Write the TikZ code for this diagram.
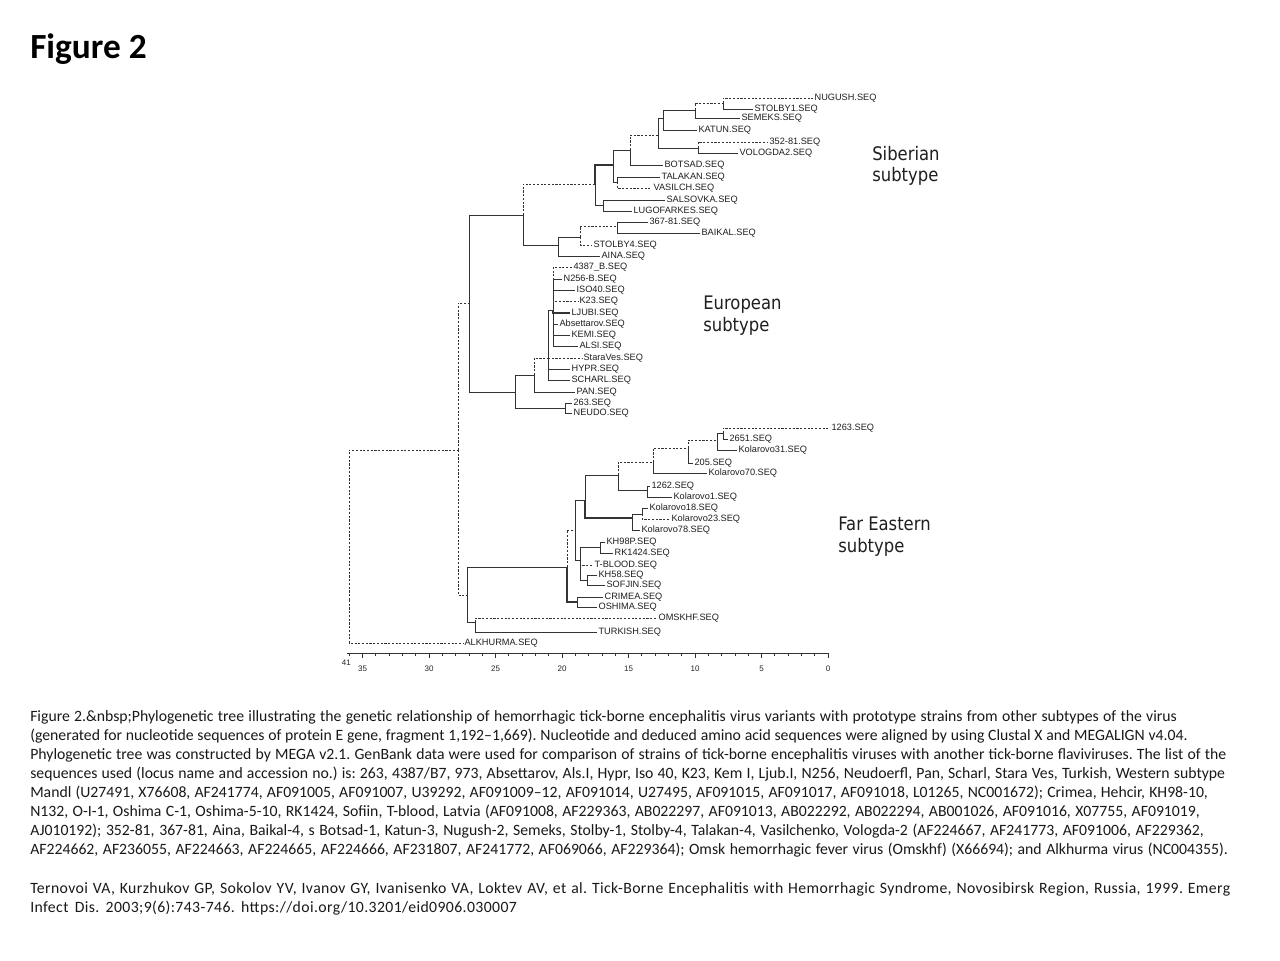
\documentclass[tikz,border=0pt]{standalone}
\usepackage{fontspec}
\setmainfont{Carlito}
\newfontfamily\capwide[LetterSpace=2.5]{Carlito}
\newfontfamily\lblfont{Liberation Sans}
\newfontfamily\subfont[FakeStretch=0.88]{DejaVu Sans}
\newcommand{\capline}[2]{\makebox[#1pt][s]{#2}}
\frenchspacing
\begin{document}
\begin{tikzpicture}[x=0.75pt,y=-0.75pt,
  br/.style={draw=black!80, line width=0.6pt},
  brd/.style={br, dash pattern=on 1.6pt off 1.2pt},
  lbl/.style={anchor=west, inner sep=1pt, font=\lblfont\fontsize{6.9}{7.5}\selectfont, text=black!88},
  sublbl/.style={anchor=north west, inner sep=0pt, align=left, font=\subfont\fontsize{14}{16}\selectfont, text=black!88},
  captxt/.style={anchor=base west, inner sep=0pt, font=\fontsize{11.8}{14}\selectfont\frenchspacing, text=black!90},
  axl/.style={inner sep=0pt, font=\lblfont\fontsize{6}{7}\selectfont, text=black!85}]
\useasboundingbox (0,0) rectangle (1280,960);
\fill[white] (0,0) rectangle (1280,960);

% title
\node[anchor=base west, inner sep=0pt, font=\bfseries\fontsize{26.5}{31}\selectfont] (title) at (30,58) {Figure 2};

% ---------------- Siberian subtype ----------------
\coordinate (nA1) at (723,103);
\coordinate (nA2) at (695,110);
\coordinate (nB) at (663,118);
\coordinate (n352) at (698,148);
\coordinate (nA) at (658,135);
\coordinate (nD) at (630,150);
\coordinate (nF) at (617,182);
\coordinate (nE) at (613,165);
\coordinate (nG) at (603,205);
\coordinate (nH) at (595,184);
\coordinate (n367) at (617,226);
\coordinate (n4) at (580,237);
\coordinate (nI) at (558,245);
\coordinate (nSib) at (523,215);

\node[lbl] (nug) at (813,98) {NUGUSH.SEQ};
\node[lbl] (sto1) at (753,109) {STOLBY1.SEQ};
\node[lbl] (sem) at (740,118) {SEMEKS.SEQ};
\node[lbl] (kat) at (697,130) {KATUN.SEQ};
\node[lbl] (s352) at (768,142) {352-81.SEQ};
\node[lbl] (vol) at (738,153) {VOLOGDA2.SEQ};
\node[lbl] (bot) at (663,165) {BOTSAD.SEQ};
\node[lbl] (tal) at (660,177) {TALAKAN.SEQ};
\node[lbl] (vas) at (652,188) {VASILCH.SEQ};
\node[lbl] (sal) at (665,200) {SALSOVKA.SEQ};
\node[lbl] (ugo) at (632,211) {LUGOFARKES.SEQ};
\node[lbl] (s367) at (648,222) {367-81.SEQ};
\node[lbl] (bai) at (700,233) {BAIKAL.SEQ};
\node[lbl] (sto4) at (592,245) {STOLBY4.SEQ};
\node[lbl] (aina) at (600,256) {AINA.SEQ};

\draw[brd] (nA1) |- (nug.west);
\draw[br] (nA1) |- (sto1.west);
\draw[brd] (nA2) |- (nA1);
\draw[br] (nA2) |- (sem.west);
\draw[br] (nB) |- (nA2);
\draw[br] (nB) |- (kat.west);
\draw[br] (nA) |- (nB);
\draw[br] (nA) |- (n352);
\draw[brd] (n352) |- (s352.west);
\draw[br] (n352) |- (vol.west);
\draw[brd] (nD) |- (nA);
\draw[br] (nD) |- (bot.west);
\draw[br] (nE) |- (nD);
\draw[br] (nE) |- (nF);
\draw[br] (nF) |- (tal.west);
\draw[brd] (nF) |- (vas.west);
\draw[br] (nG) |- (sal.west);
\draw[br] (nG) |- (ugo.west);
\draw[br, line width=1.1pt] (nH) |- (nE);
\draw[br] (nH) |- (nG);
\draw[br] (n367) |- (s367.west);
\draw[br] (n367) |- (bai.west);
\draw[brd] (n4) |- (n367);
\draw[brd] (n4) |- (sto4.west);
\draw[br] (nI) |- (n4);
\draw[br] (nI) |- (aina.west);
\draw[brd] (nSib) |- (nH);
\draw[br] (nSib) |- (nI);

% ---------------- European subtype ----------------
\coordinate (nEu1) at (553,310);
\coordinate (nEu0) at (548,358);
\coordinate (nP) at (534,375);
\coordinate (n263) at (565,408);
\coordinate (nEu) at (515,392);
\coordinate (nSE) at (469,303);

\node[lbl] (e4387) at (572,267) {4387\_B.SEQ};
\node[lbl] (en256) at (562,279) {N256-B.SEQ};
\node[lbl] (eiso) at (575,290) {ISO40.SEQ};
\node[lbl] (ek23) at (578,301) {K23.SEQ};
\node[lbl] (eljub) at (570,313) {LJUBI.SEQ};
\node[lbl] (eabs) at (558,324) {Absettarov.SEQ};
\node[lbl] (ekem) at (570,335) {KEMI.SEQ};
\node[lbl] (eals) at (578,346) {ALSI.SEQ};
\node[lbl] (esta) at (582,358) {StaraVes.SEQ};
\node[lbl] (ehyp) at (570,369) {HYPR.SEQ};
\node[lbl] (esch) at (570,380) {SCHARL.SEQ};
\node[lbl] (epan) at (575,392) {PAN.SEQ};
\node[lbl] (e263) at (572,403) {263.SEQ};
\node[lbl] (eneu) at (572,413) {NEUDO.SEQ};

\draw[brd] (nEu1) |- (e4387.west);
\draw[br] (nEu1) |- (en256.west);
\draw[br] (nEu1) |- (eiso.west);
\draw[brd] (nEu1) |- (ek23.west);
\draw[br, line width=1.1pt] (nEu1) |- (eljub.west);
\draw[br] (nEu1) |- (eabs.west);
\draw[br] (nEu1) |- (ekem.west);
\draw[br] (nEu1) |- (eals.west);
\draw[br] (nEu0) |- (nEu1);
\draw[brd] (nEu0) |- (esta.west);
\draw[br] (nEu0) |- (ehyp.west);
\draw[br] (nEu0) |- (esch.west);
\draw[brd] (nP) |- (nEu0);
\draw[br] (nP) |- (epan.west);
\draw[br] (n263) |- (e263.west);
\draw[br] (n263) |- (eneu.west);
\draw[br] (nEu) |- (nP);
\draw[br] (nEu) |- (n263);
\draw[br] (nSE) |- (nSib);
\draw[br] (nSE) |- (nEu);

% ---------------- Far Eastern subtype ----------------
\coordinate (nK2) at (723,433);
\coordinate (nK) at (717,440);
\coordinate (nL) at (688,448);
\coordinate (nM) at (653,462);
\coordinate (n1262) at (647,490);
\coordinate (nN) at (618,475);
\coordinate (nKol2) at (642,514);
\coordinate (nKol) at (632,518);
\coordinate (nO) at (585,500);
\coordinate (nQ1) at (600,547);
\coordinate (nQ2) at (587,580);
\coordinate (nQ) at (580,560);
\coordinate (nR) at (575,530);
\coordinate (nS) at (577,602);
\coordinate (nFE) at (567,567);
\coordinate (nT) at (475,622);
\coordinate (nU) at (467,595);
\coordinate (nV) at (458,450);
\coordinate (nRoot) at (349,600);

\node[lbl] (f1263) at (830,428) {1263.SEQ};
\node[lbl] (f2651) at (728,439) {2651.SEQ};
\node[lbl] (fk31) at (737,450) {Kolarovo31.SEQ};
\node[lbl] (f205) at (693,463) {205.SEQ};
\node[lbl] (fk70) at (707,473) {Kolarovo70.SEQ};
\node[lbl] (f1262) at (650,486) {1262.SEQ};
\node[lbl] (fk1) at (672,497) {Kolarovo1.SEQ};
\node[lbl] (fk18) at (648,508) {Kolarovo18.SEQ};
\node[lbl] (fk23) at (670,519) {Kolarovo23.SEQ};
\node[lbl] (fk78) at (640,530) {Kolarovo78.SEQ};
\node[lbl] (fkh) at (605,542) {KH98P.SEQ};
\node[lbl] (frk) at (613,553) {RK1424.SEQ};
\node[lbl] (ftb) at (593,565) {T-BLOOD.SEQ};
\node[lbl] (fkh58) at (597,575) {KH58.SEQ};
\node[lbl] (fsof) at (605,585) {SOFJIN.SEQ};
\node[lbl] (fcri) at (603,597) {CRIMEA.SEQ};
\node[lbl] (fosh) at (597,607) {OSHIMA.SEQ};
\node[lbl] (fomsk) at (657,618) {OMSKHF.SEQ};
\node[lbl] (ftur) at (597,632) {TURKISH.SEQ};
\node[lbl] (falk) at (463,643) {ALKHURMA.SEQ};

\draw[brd] (nK2) |- (f1263.west);
\draw[br] (nK2) |- (f2651.west);
\draw[br] (nK) |- (nK2);
\draw[br] (nK) |- (fk31.west);
\draw[brd] (nL) |- (nK);
\draw[br] (nL) |- (f205.west);
\draw[brd] (nM) |- (nL);
\draw[br] (nM) |- (fk70.west);
\draw[br] (n1262) |- (f1262.west);
\draw[br] (n1262) |- (fk1.west);
\draw[brd] (nN) |- (nM);
\draw[br] (nN) |- (n1262);
\draw[br] (nKol2) |- (fk18.west);
\draw[brd] (nKol2) |- (fk23.west);
\draw[br] (nKol) |- (nKol2);
\draw[br] (nKol) |- (fk78.west);
\draw[br] (nO) |- (nN);
\draw[br, line width=1pt] (nO) |- (nKol);
\draw[br] (nQ1) |- (fkh.west);
\draw[br] (nQ1) |- (frk.west);
\draw[br] (nQ2) |- (fkh58.west);
\draw[br] (nQ2) |- (fsof.west);
\draw[br] (nQ) |- (nQ1);
\draw[brd] (nQ) |- (ftb.west);
\draw[br] (nQ) |- (nQ2);
\draw[br] (nR) |- (nO);
\draw[br] (nR) |- (nQ);
\draw[br] (nS) |- (fcri.west);
\draw[br] (nS) |- (fosh.west);
\draw[brd] (nFE) |- (nR);
\draw[br, line width=1pt] (nFE) |- (nS);
\draw[brd] (nT) |- (fomsk.west);
\draw[br] (nT) |- (ftur.west);
\draw[br] (nU) |- (nFE);
\draw[br] (nU) |- (nT);
\draw[brd] (nV) |- (nSE);
\draw[brd] (nV) |- (nU);
\draw[brd] (nRoot) |- (nV);
\draw[brd] (nRoot) |- (falk.west);

% subtype labels
\node[sublbl] (sib) at (872,146) {Siberian\\subtype};
\node[sublbl] (eur) at (703,296) {European\\subtype};
\node[sublbl] (far) at (838,517) {Far Eastern\\subtype};

% scale axis
\draw[br, line width=0.5pt] (347,653) -- (828,653);
\foreach \tk in {0,...,36} {
  \draw[br, line width=0.5pt] ({828-13.3*\tk},653) -- ++(0,3);
}
\foreach \tk in {0,5,...,35} {
  \draw[br, line width=0.6pt] ({828-13.3*\tk},653) -- ++(0,5);
  \node[axl, anchor=north] at ({828-13.3*\tk},666) {\tk};
}
\node[axl, anchor=east] (ax41) at (351,663) {41};

% caption
\node[captxt] (c1) at (30,721) {\capline{860}{Figure 2.\&nbsp;Phylogenetic tree illustrating the genetic relationship of hemorrhagic tick-borne encephalitis virus variants with prototype strains from other subtypes of the virus}};
\node[captxt] (c2) at (30,740) {\capline{868}{(generated for nucleotide sequences of protein E gene, fragment 1,192–1,669). Nucleotide and deduced amino acid sequences were aligned by using Clustal X and MEGALIGN v4.04.}};
\node[captxt] (c3) at (30,759) {\capline{897}{Phylogenetic tree was constructed by MEGA v2.1. GenBank data were used for comparison of strains of tick-borne encephalitis viruses with another tick-borne flaviviruses. The list of the}};
\node[captxt] (c4) at (30,778) {\capline{896}{sequences used (locus name and accession no.) is: 263, 4387/B7, 973, Absettarov, Als.I, Hypr, Iso 40, K23, Kem I, Ljub.I, N256, Neudoerfl, Pan, Scharl, Stara Ves, Turkish, Western subtype}};
\node[captxt] (c5) at (30,797) {\capline{883}{Mandl (U27491, X76608, AF241774, AF091005, AF091007, U39292, AF091009–12, AF091014, U27495, AF091015, AF091017, AF091018, L01265, NC001672); Crimea, Hehcir, KH98-10,}};
\node[captxt] (c6) at (30,816) {\capline{877}{N132, O-I-1, Oshima C-1, Oshima-5-10, RK1424, Sofiin, T-blood, Latvia (AF091008, AF229363, AB022297, AF091013, AB022292, AB022294, AB001026, AF091016, X07755, AF091019,}};
\node[captxt] (c7) at (30,835) {\capline{880}{AJ010192); 352-81, 367-81, Aina, Baikal-4, s Botsad-1, Katun-3, Nugush-2, Semeks, Stolby-1, Stolby-4, Talakan-4, Vasilchenko, Vologda-2 (AF224667, AF241773, AF091006, AF229362,}};
\node[captxt] (c8) at (30,854) {\capline{898}{AF224662, AF236055, AF224663, AF224665, AF224666, AF231807, AF241772, AF069066, AF229364); Omsk hemorrhagic fever virus (Omskhf) (X66694); and Alkhurma virus (NC004355).}};
\node[captxt] (c9) at (30,893) {\capwide\capline{900}{Ternovoi VA, Kurzhukov GP, Sokolov YV, Ivanov GY, Ivanisenko VA, Loktev AV, et al. Tick-Borne Encephalitis with Hemorrhagic Syndrome, Novosibirsk Region, Russia, 1999. Emerg}};
\node[captxt] (c10) at (30,912) {\capwide\capline{365}{Infect Dis. 2003;9(6):743-746. https://doi.org/10.3201/eid0906.030007}};
\end{tikzpicture}
\end{document}
